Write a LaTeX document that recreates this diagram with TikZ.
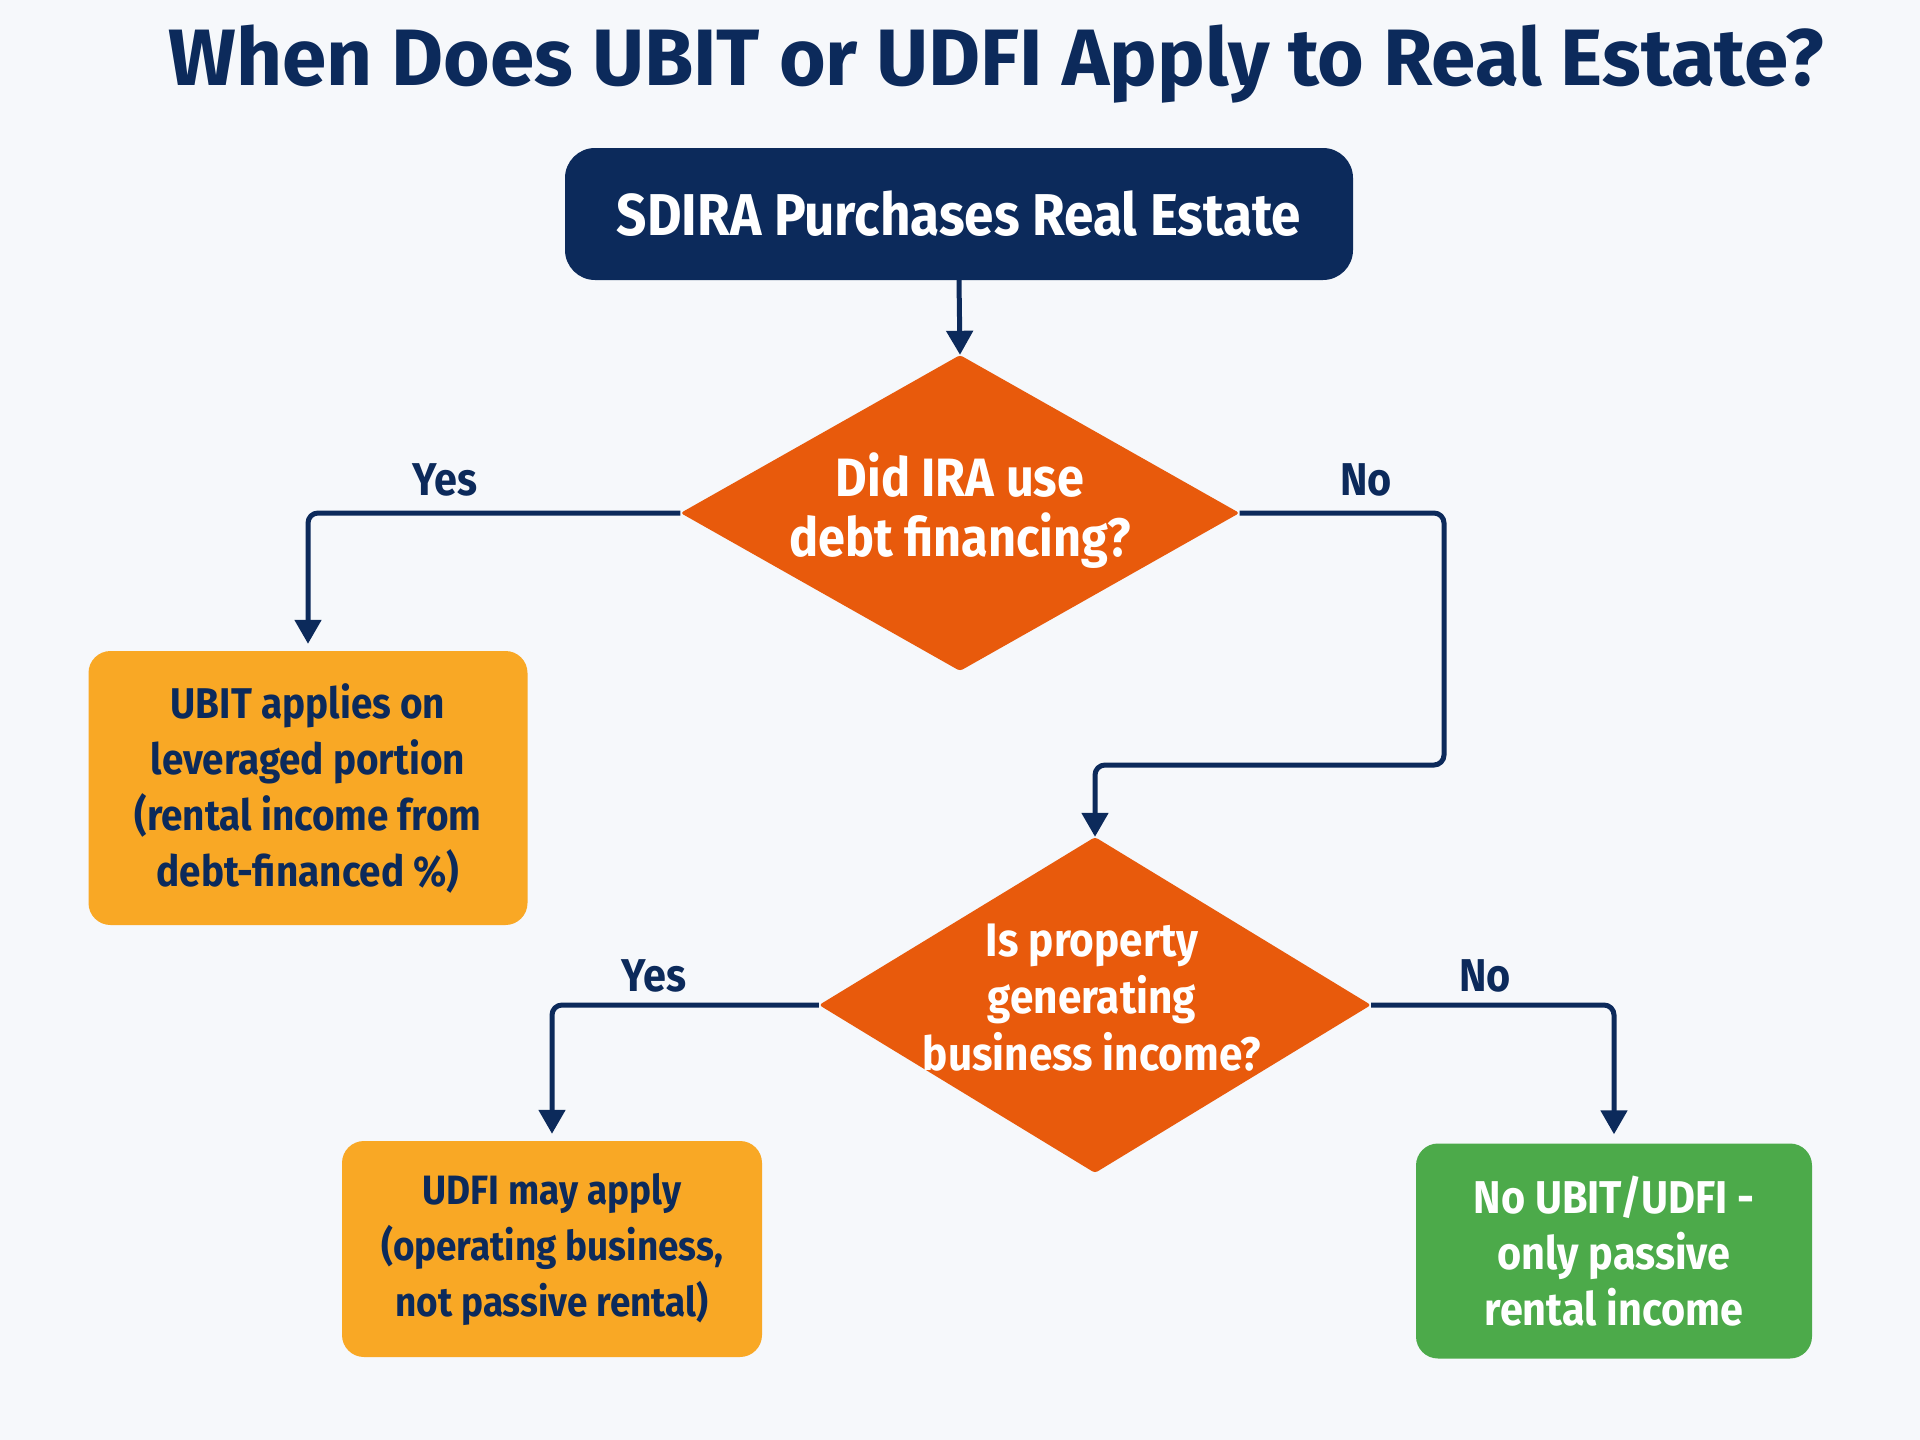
\documentclass[tikz,border=0pt]{standalone}
\usepackage{fontspec}
\setmainfont{Fira Sans}
\newfontfamily\condfont[FakeStretch=0.9]{Fira Sans}
\usetikzlibrary{shapes.geometric,arrows.meta}
\definecolor{navy}{HTML}{0C2A5B}
\definecolor{bg}{HTML}{F6F8FB}
\definecolor{dorange}{HTML}{E85A0C}
\definecolor{borange}{HTML}{F9A825}
\definecolor{bgreen}{HTML}{4CAA4A}
\tikzset{
  x=1pt,y=-1pt,
  box/.style={rounded corners=22pt,inner sep=0pt,align=center},
  decision/.style={diamond,fill=dorange,inner sep=0pt,rounded corners=3pt},
  dtext/.style={align=center,text=white},
  btext/.style={align=center},
  lab/.style={text=navy,font=\condfont\bfseries\fontsize{46}{50}\selectfont},
  arr/.style={draw=navy,line width=5pt,rounded corners=10pt,-{Triangle[length=24pt,width=26pt]}},
}
\begin{document}
\begin{tikzpicture}
\fill[bg] (0,0) rectangle (1920,1440);
\useasboundingbox (0,0) rectangle (1920,1440);
\node[text=navy,font=\bfseries\fontsize{80}{86}\selectfont] (title) at (996,64) {When Does UBIT or UDFI Apply to Real Estate?};
\node[box,fill=navy,text=white,minimum width=788pt,minimum height=132pt,rounded corners=30pt,font=\condfont\bfseries\fontsize{59}{66}\selectfont] (start) at (959,214) {SDIRA Purchases Real Estate};
\node[decision,minimum width=559pt,minimum height=316pt] (d1) at (960,513) {};
\node[dtext,font=\condfont\bfseries\fontsize{54}{60}\selectfont] (d1t) at (960,511) {Did IRA use\\debt financing?};
\node[box,fill=borange,text=navy,minimum width=439pt,minimum height=274pt,btext,font=\condfont\bfseries\fontsize{43}{56}\selectfont] (b1) at (308,788) {UBIT applies on\\leveraged portion\\(rental income from\\debt-financed \%)};
\node[decision,minimum width=552pt,minimum height=336pt] (d2) at (1095,1005) {};
\node[dtext,font=\condfont\bfseries\fontsize{47}{57}\selectfont] (d2t) at (1092,998) {Is property\\generating\\business income?};
\node[box,fill=borange,text=navy,minimum width=420pt,minimum height=216pt,btext,font=\condfont\bfseries\fontsize{41}{56}\selectfont] (b2) at (552,1249) {UDFI may apply\\(operating business,\\not passive rental)};
\node[box,fill=bgreen,text=white,minimum width=396pt,minimum height=215pt,btext,font=\condfont\bfseries\fontsize{46}{56}\selectfont] (b3) at (1614,1251) {No UBIT/UDFI -\\only passive\\rental income};
\coordinate (nbend) at (1444,765);
\draw[arr] (start.south) -- (d1.north);
\draw[arr] (d1.west) -| ([yshift=7pt]b1.north);
\draw[arr] (d1.east) -| (nbend) -| (d2.north);
\draw[arr] (d2.west) -| ([yshift=7pt]b2.north);
\draw[arr] (d2.east) -| ([yshift=9pt]b3.north);
\node[lab] (l1) at (445,480) {Yes};
\node[lab] (l2) at (1366,480) {No};
\node[lab] (l3) at (654,976) {Yes};
\node[lab] (l4) at (1485,976) {No};
\end{tikzpicture}
\end{document}
